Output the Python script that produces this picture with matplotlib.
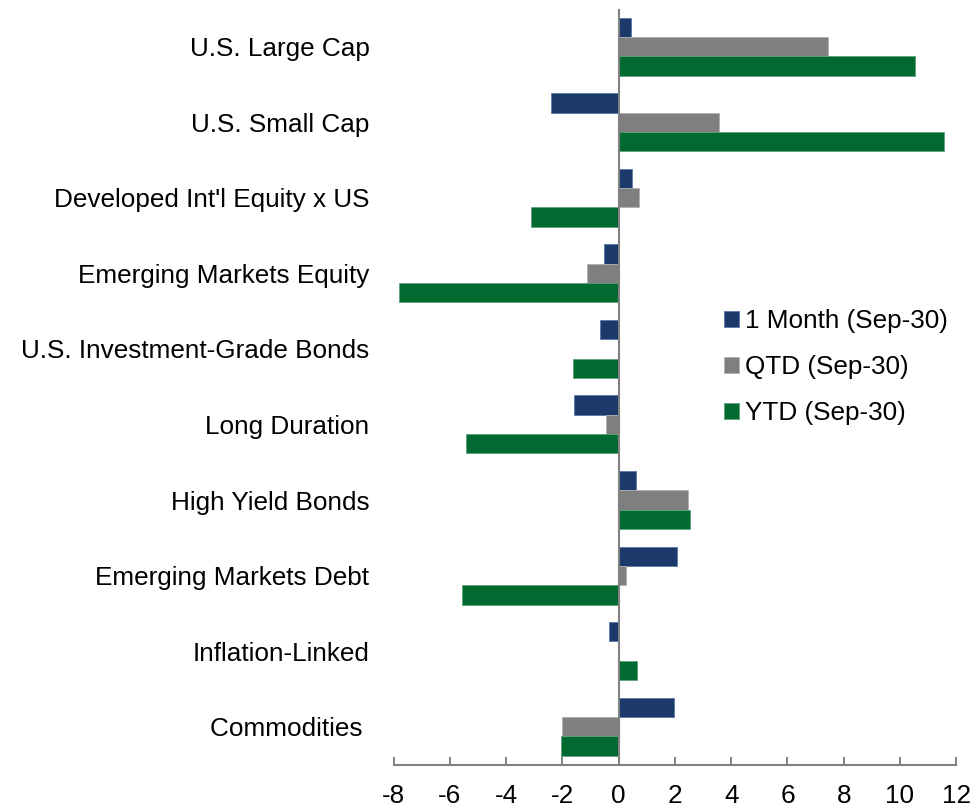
import matplotlib
matplotlib.use("Agg")
import matplotlib.pyplot as plt
from matplotlib.patches import Patch
import numpy as np

plt.rcParams['font.family'] = ['Liberation Sans', 'DejaVu Sans']

categories = [
    "U.S. Large Cap",
    "U.S. Small Cap",
    "Developed Int'l Equity x US",
    "Emerging Markets Equity",
    "U.S. Investment-Grade Bonds",
    "Long Duration",
    "High Yield Bonds",
    "Emerging Markets Debt",
    "Inflation-Linked",
    "Commodities ",
]
one_month = [0.42, -2.42, 0.49, -0.54, -0.68, -1.58, 0.62, 2.08, -0.35, 1.95]
qtd = [7.43, 3.58, 0.72, -1.11, 0.0, -0.45, 2.45, 0.26, 0.0, -2.00]
ytd = [10.54, 11.55, -3.11, -7.82, -1.62, -5.43, 2.55, -5.57, 0.65, -2.05]
series_labels = ["1 Month (Sep-30)", "QTD (Sep-30)", "YTD (Sep-30)"]
colors = ["#1B3A6B", "#7F7F7F", "#006A30"]
edges = ["#5C78A8", "#B0B0B0", "#5FA07A"]
xticks = [-8, -6, -4, -2, 0, 2, 4, 6, 8, 10, 12]

W, H = 976, 808
fig = plt.figure(figsize=(W / 100, H / 100), dpi=100)
left, right = 393.7 / W, 956.2 / W
top_px, bot_px = 8.9, 764.5
ax = fig.add_axes([left, 1 - bot_px / H, right - left, (bot_px - top_px) / H])

y = np.arange(len(categories))
bh = 0.256
for vals, off, c, e in zip([one_month, qtd, ytd], [-bh, 0, bh], colors, edges):
    ax.barh(y + off, vals, height=bh, color=c, edgecolor=e, linewidth=0.6, zorder=2)

ax.set_xlim(-8, 12)
ax.set_ylim(len(categories) - 0.5, -0.5)
ax.set_yticks(y)
ax.set_yticklabels(categories, fontsize=18.8)
ax.tick_params(axis='y', length=0, pad=17.5)
ax.set_xticks(xticks)
ax.set_xticklabels([str(t) for t in xticks], fontsize=18.8)
ax.tick_params(axis='x', direction='in', length=5.5, width=1.4, color='#808080', pad=14)

for s in ['top', 'right', 'left']:
    ax.spines[s].set_visible(False)
ax.spines['bottom'].set_color('#808080')
ax.spines['bottom'].set_linewidth(1.5)
ax.axvline(0, color='#808080', linewidth=1.5, zorder=3)

handles = [Patch(facecolor=c, edgecolor=e, linewidth=0.6) for c, e in zip(colors, edges)]
fig.legend(handles, series_labels, loc='upper left',
           bbox_to_anchor=(724 / W, 1 - 309 / H), frameon=False,
           fontsize=18.8, handlelength=0.56, handleheight=0.56,
           handletextpad=0.24, labelspacing=0.85, borderpad=0, borderaxespad=0)

fig.savefig("out.png", dpi=100)
